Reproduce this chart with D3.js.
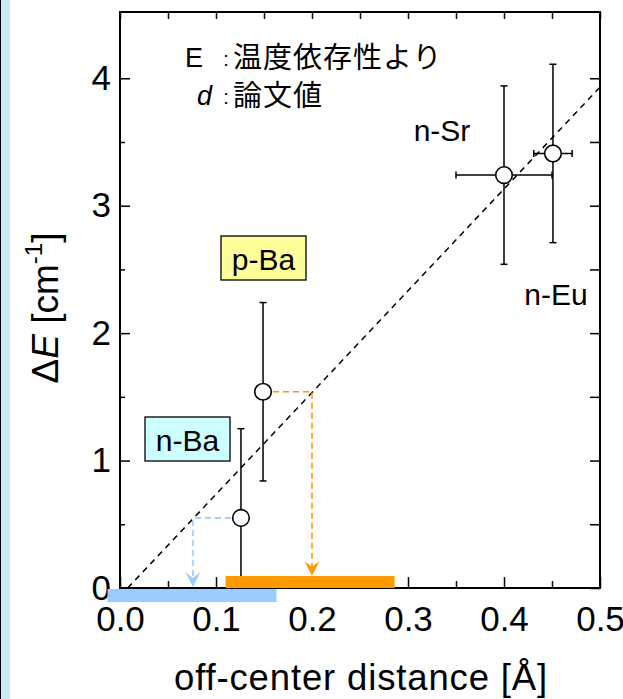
<!DOCTYPE html>
<html>
<head>
<meta charset="utf-8">
<script src="https://cdn.jsdelivr.net/npm/d3@7"></script>
<style>
  html, body { margin: 0; padding: 0; background: #fff; }
  svg { display: block; }
  text { font-family: "Liberation Sans", Arial, "Noto Sans CJK JP", sans-serif; fill: #000; }
  .jp { font-family: "Noto Sans CJK JP", "Liberation Sans", sans-serif; }
</style>
</head>
<body>
<svg id="chart" width="623" height="699"></svg>
<script>
// Samples: off-center distance d [Å] vs. energy splitting ΔE [cm^-1]
const samples     = ["n-Ba", "p-Ba", "n-Sr", "n-Eu"];
const distance    = [0.126, 0.149, 0.400, 0.451];
const distanceErr = [0, 0, 0.05, 0.02];
const deltaE      = [0.55, 1.54, 3.24, 3.41];
const deltaEErr   = [0.70, 0.70, 0.70, 0.70];

// Linear guide through the data
const fitX = [0.008, 0.5];
const fitY = [0, 3.93];

// Distances read back from the guide line for the Ba samples
const projSamples  = ["n-Ba", "p-Ba"];
const projDistance = [0.076, 0.200];
const rangeLo      = [-0.013, 0.110];
const rangeHi      = [0.163, 0.286];

// Axis ticks
const xMajor = [0, 0.1, 0.2, 0.3, 0.4, 0.5];
const xMajorLabels = ["0.0", "0.1", "0.2", "0.3", "0.4", "0.5"];
const xMinor = [0.05, 0.15, 0.25, 0.35, 0.45];
const yMajor = [0, 1, 2, 3, 4];
const yMajorLabels = ["0", "1", "2", "3", "4"];
const yMinor = [0.5, 1.5, 2.5, 3.5];

const labelText = ["n-Ba", "p-Ba", "n-Sr", "n-Eu"];

const svg = d3.select("#chart");
const W = 623, H = 699;

// Side strip
svg.append("rect").attr("x", 0).attr("y", 0).attr("width", 10).attr("height", H).attr("fill", "#cde6f8");
svg.append("line").attr("x1", 0.5).attr("x2", 0.5).attr("y1", 0).attr("y2", H).attr("stroke", "#000").attr("stroke-width", 1);

const L = 120, R = 600, T = 12, B = 588;
const x = d3.scaleLinear().domain([0, 0.5]).range([L, R]);
const y = d3.scaleLinear().domain([0, 4.52]).range([B, T]);

const colBlue = "#99ccff", colOrange = "#ff9900";

// clip region for the plot area
svg.append("defs").append("clipPath").attr("id", "plotClip")
  .append("rect").attr("x", L).attr("y", T).attr("width", R - L).attr("height", B - T);

// ---- axes (ticks pointing inward) ----
const tickFont = 35;
function styleAxis(g) {
  g.select(".domain").remove();
  g.selectAll(".tick line").attr("stroke", "#000").attr("stroke-width", 1.5);
  g.selectAll(".tick text").attr("font-size", tickFont).attr("fill", "#000")
    .style("font-family", "'Liberation Sans', Arial, sans-serif");
}

svg.append("g").attr("transform", `translate(0,${B})`)
  .call(d3.axisBottom(x).tickValues(xMajor).tickSizeInner(-11).tickSizeOuter(0).tickPadding(18)
        .tickFormat((d, i) => xMajorLabels[i]))
  .call(styleAxis);
svg.append("g").attr("transform", `translate(0,${B})`)
  .call(d3.axisBottom(x).tickValues(xMinor).tickSizeInner(-7).tickSizeOuter(0).tickFormat(""))
  .call(styleAxis);
svg.append("g").attr("transform", `translate(0,${T})`)
  .call(d3.axisTop(x).tickValues(xMajor.concat(xMinor)).tickSizeInner(-7).tickSizeOuter(0).tickFormat(""))
  .call(styleAxis);

svg.append("g").attr("transform", `translate(${L},0)`)
  .call(d3.axisLeft(y).tickValues(yMajor).tickSizeInner(-10).tickSizeOuter(0).tickPadding(9)
        .tickFormat((d, i) => yMajorLabels[i]))
  .call(styleAxis);
svg.append("g").attr("transform", `translate(${L},0)`)
  .call(d3.axisLeft(y).tickValues(yMinor).tickSizeInner(-5).tickSizeOuter(0).tickFormat(""))
  .call(styleAxis);
svg.append("g").attr("transform", `translate(${R},0)`)
  .call(d3.axisRight(y).tickValues(yMajor.concat(yMinor)).tickSizeInner(-10).tickSizeOuter(0).tickFormat(""))
  .call(styleAxis);

// frame
svg.append("rect").attr("x", L).attr("y", T).attr("width", R - L).attr("height", B - T)
  .attr("fill", "none").attr("stroke", "#000").attr("stroke-width", 2);

// ---- axis titles ----
svg.append("text").attr("x", (L + R) / 2 + 1).attr("y", 690).attr("text-anchor", "middle")
  .attr("font-size", 36.5).attr("letter-spacing", 0.85).text("off-center distance [Å]");

const yTitle = svg.append("text").attr("transform", "translate(58,308) rotate(-90)")
  .attr("text-anchor", "middle").attr("font-size", 37);
yTitle.append("tspan").text("Δ");
yTitle.append("tspan").attr("font-style", "italic").text("E");
yTitle.append("tspan").text(" [cm");
yTitle.append("tspan").attr("font-size", 24).attr("dy", -16).text("-1");
yTitle.append("tspan").attr("dy", 16).text("]");

// ---- plot content ----
const plot = svg.append("g");
const clipped = plot.append("g").attr("clip-path", "url(#plotClip)");

// dashed guide line
clipped.append("line")
  .attr("x1", x(fitX[0])).attr("y1", y(fitY[0]))
  .attr("x2", x(fitX[1])).attr("y2", y(fitY[1]))
  .attr("stroke", "#000").attr("stroke-width", 1.5).attr("stroke-dasharray", "6,5");

// projection paths (point -> guide line -> axis)
const projColors = [colBlue, colOrange];
const barThick = 12;
projSamples.forEach((s, k) => {
  const i = samples.indexOf(s);
  const yEnd = k === 0 ? y(0) - 1 : y(0) - barThick;
  clipped.append("path")
    .attr("d", `M${x(distance[i])},${y(deltaE[i])}H${x(projDistance[k])}V${yEnd - 8}`)
    .attr("fill", "none").attr("stroke", projColors[k]).attr("stroke-width", 1.6)
    .attr("stroke-dasharray", "6,4");
  // arrow head
  plot.append("path")
    .attr("transform", `translate(${x(projDistance[k])},${yEnd})`)
    .attr("d", "M0,0L-7.5,-15L0,-9L7.5,-15Z")
    .attr("fill", projColors[k]);
});

// error bars
const cap = 3.5;
samples.forEach((s, i) => {
  const cx = x(distance[i]), cy = y(deltaE[i]);
  const y1 = y(deltaE[i] + deltaEErr[i]), y2 = y(deltaE[i] - deltaEErr[i]);
  const g = clipped.append("g").attr("stroke", "#000").attr("stroke-width", 1.5).attr("fill", "none");
  g.append("line").attr("x1", cx).attr("x2", cx).attr("y1", y1).attr("y2", y2);
  g.append("line").attr("x1", cx - cap).attr("x2", cx + cap).attr("y1", y1).attr("y2", y1);
  g.append("line").attr("x1", cx - cap).attr("x2", cx + cap).attr("y1", y2).attr("y2", y2);
  if (distanceErr[i] > 0) {
    const xa = x(distance[i] - distanceErr[i]), xb = x(distance[i] + distanceErr[i]);
    g.append("line").attr("x1", xa).attr("x2", xb).attr("y1", cy).attr("y2", cy);
    g.append("line").attr("x1", xa).attr("x2", xa).attr("y1", cy - cap).attr("y2", cy + cap);
    g.append("line").attr("x1", xb).attr("x2", xb).attr("y1", cy - cap).attr("y2", cy + cap);
  }
});

// data points
plot.selectAll("circle.pt").data(samples).join("circle").attr("class", "pt")
  .attr("cx", (d, i) => x(distance[i])).attr("cy", (d, i) => y(deltaE[i]))
  .attr("r", 8.3).attr("fill", "#fff").attr("stroke", "#000").attr("stroke-width", 1.6);

// distance ranges on the axis
plot.append("rect")
  .attr("x", x(rangeLo[0])).attr("width", x(rangeHi[0]) - x(rangeLo[0]))
  .attr("y", y(0) + 1).attr("height", barThick + 1).attr("fill", colBlue);
plot.append("rect")
  .attr("x", x(rangeLo[1])).attr("width", x(rangeHi[1]) - x(rangeLo[1]))
  .attr("y", y(0) - barThick).attr("height", barThick).attr("fill", colOrange);

// sample labels
function boxLabel(cx, baseline, txt, fill) {
  const w = 85, h = 44;
  svg.append("rect").attr("x", cx - w / 2).attr("y", baseline - 34).attr("width", w).attr("height", h)
    .attr("fill", fill).attr("stroke", "#000").attr("stroke-width", 1.3);
  svg.append("text").attr("x", cx).attr("y", baseline).attr("text-anchor", "middle")
    .attr("font-size", 30).text(txt);
}
boxLabel(263.5, 270, labelText[1], "#ffff99");
boxLabel(187.5, 451, labelText[0], "#ccffff");
svg.append("text").attr("x", 442).attr("y", 141).attr("text-anchor", "middle").attr("font-size", 30).text(labelText[2]);
svg.append("text").attr("x", 556).attr("y", 305).attr("text-anchor", "middle").attr("font-size", 30).text(labelText[3]);

// note
svg.append("text").attr("x", 203).attr("y", 67).attr("text-anchor", "end").attr("font-size", 27).text("E");
svg.append("text").attr("x", 226).attr("y", 66).attr("text-anchor", "middle").attr("font-size", 20).text(":");
svg.append("text").attr("class", "jp").attr("x", 233).attr("y", 68).attr("font-size", 29)
  .attr("letter-spacing", 1).text("温度依存性より");
svg.append("text").attr("x", 212).attr("y", 105).attr("text-anchor", "end").attr("font-size", 27)
  .attr("font-style", "italic").text("d");
svg.append("text").attr("x", 226).attr("y", 104).attr("text-anchor", "middle").attr("font-size", 20).text(":");
svg.append("text").attr("class", "jp").attr("x", 233).attr("y", 106).attr("font-size", 29)
  .attr("letter-spacing", 1).text("論文値");
</script>
</body>
</html>
